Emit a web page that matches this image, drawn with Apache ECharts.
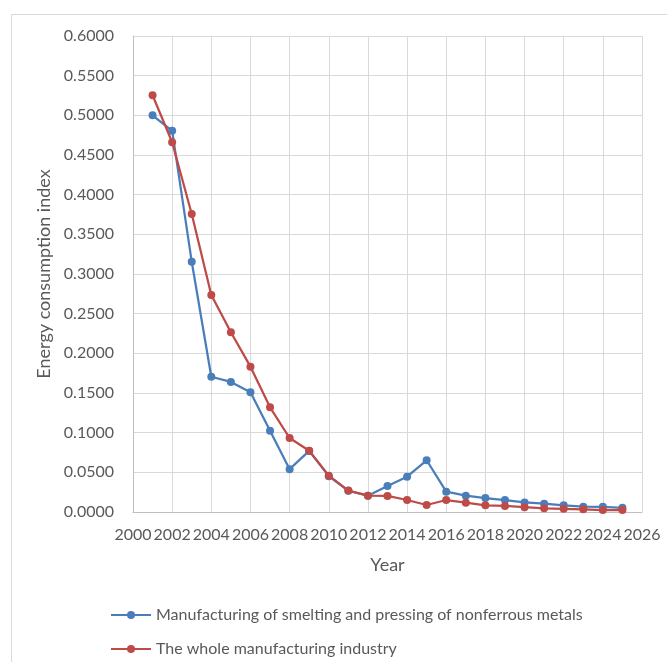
<!DOCTYPE html>
<html>
<head>
<meta charset="utf-8">
<script src="https://cdn.jsdelivr.net/npm/echarts@6/dist/echarts.min.js"></script>
<style>
  html, body { margin: 0; padding: 0; background: #fff; }
  #chart { width: 667px; height: 662px; }
</style>
</head>
<body>
<div id="chart"></div>
<script>
// Years on the horizontal axis
const years = [2001, 2002, 2003, 2004, 2005, 2006, 2007, 2008, 2009, 2010, 2011, 2012, 2013,
               2014, 2015, 2016, 2017, 2018, 2019, 2020, 2021, 2022, 2023, 2024, 2025];

// Energy consumption index, nonferrous metals smelting and pressing
const nonferrous = [0.5000, 0.4805, 0.3155, 0.1705, 0.1640, 0.1510, 0.1025, 0.0540, 0.0770, 0.0452,
                    0.0268, 0.0206, 0.0328, 0.0445, 0.0652, 0.0256, 0.0206, 0.0176, 0.0151, 0.0121,
                    0.0105, 0.0084, 0.0067, 0.0066, 0.0052];

// Energy consumption index, whole manufacturing industry
const manufacturing = [0.5253, 0.4660, 0.3756, 0.2735, 0.2265, 0.1832, 0.1320, 0.0933, 0.0772, 0.0458,
                       0.0270, 0.0206, 0.0202, 0.0151, 0.0088, 0.0151, 0.0118, 0.0084, 0.0076, 0.0060,
                       0.0046, 0.0040, 0.0034, 0.0025, 0.0025];

const seriesNames = ['Manufacturing of smelting and pressing of nonferrous metals',
                     'The whole manufacturing industry'];

const FONT = 'Lato';
const TEXT = '#595959';
const GRID = '#d9d9d9';

const pairs = (xs, ys) => xs.map((x, i) => [x, ys[i]]);

const chart = echarts.init(document.getElementById('chart'), null, { renderer: 'canvas' });
chart.setOption({
  animation: false,
  backgroundColor: '#fff',
  textStyle: { fontFamily: FONT, color: TEXT },
  graphic: [{
    type: 'rect',
    shape: { x: 11.5, y: 14.5, width: 700, height: 700 },
    style: { fill: 'none', stroke: GRID, lineWidth: 1 },
    silent: true
  }],
  grid: { left: 133, right: 25, top: 36, bottom: 150 },
  legend: {
    orient: 'vertical',
    left: 110,
    top: 607,
    padding: 0,
    itemWidth: 40,
    itemHeight: 10,
    itemGap: 18,
    textStyle: { fontFamily: FONT, fontSize: 16, color: TEXT },
    data: seriesNames
  },
  xAxis: {
    type: 'value',
    min: 2000, max: 2026, interval: 2,
    name: 'Year',
    nameLocation: 'middle',
    nameGap: 44,
    nameTextStyle: { fontFamily: FONT, fontSize: 18, color: TEXT },
    axisLine: { show: true, lineStyle: { color: '#bfbfbf', width: 1 } },
    axisTick: { show: false },
    axisLabel: { fontFamily: FONT, fontSize: 16, color: TEXT, margin: 15, formatter: v => String(v) },
    splitLine: { show: true, lineStyle: { color: GRID, width: 1 } }
  },
  yAxis: {
    type: 'value',
    min: 0, max: 0.6, interval: 0.05,
    name: 'Energy consumption index',
    nameLocation: 'middle',
    nameGap: 78,
    nameTextStyle: { fontFamily: FONT, fontSize: 18, color: TEXT },
    axisLine: { show: true, lineStyle: { color: '#bfbfbf', width: 1 } },
    axisTick: { show: false },
    axisLabel: { fontFamily: FONT, fontSize: 16, color: TEXT, margin: 19, formatter: v => v.toFixed(4) },
    splitLine: { show: true, lineStyle: { color: GRID, width: 1 } }
  },
  series: [
    {
      name: seriesNames[0],
      type: 'line',
      data: pairs(years, nonferrous),
      color: '#4a7ebb',
      lineStyle: { width: 2.25 },
      symbol: 'circle',
      symbolSize: 8,
      z: 2
    },
    {
      name: seriesNames[1],
      type: 'line',
      data: pairs(years, manufacturing),
      color: '#be4b48',
      lineStyle: { width: 2.25 },
      symbol: 'circle',
      symbolSize: 8,
      z: 3
    }
  ]
});
</script>
</body>
</html>
